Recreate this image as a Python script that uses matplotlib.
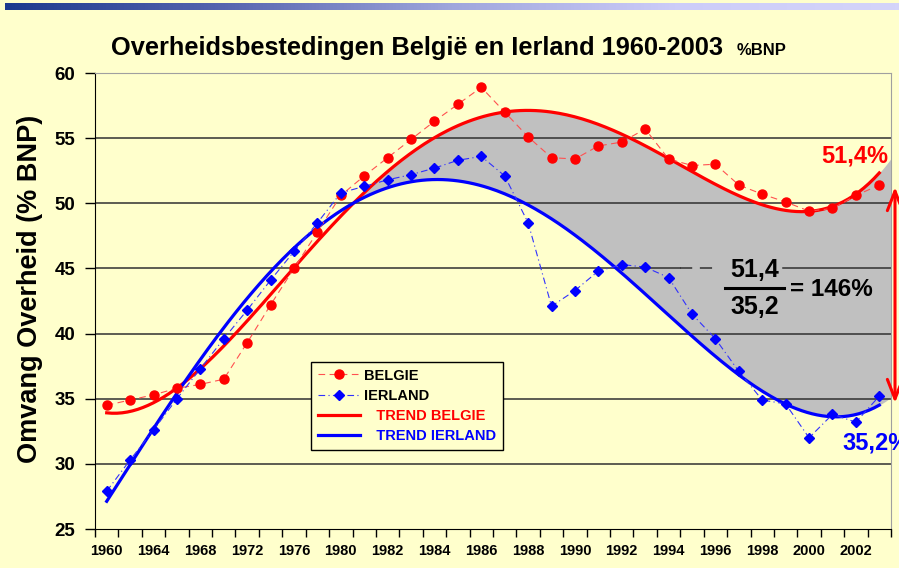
import numpy as np
import matplotlib.pyplot as plt
from matplotlib.colors import LinearSegmentedColormap
from matplotlib.patches import FancyArrowPatch
from matplotlib.lines import Line2D

###############################################################################
# Data
###############################################################################
YEARS = [1960, 1962, 1964, 1966, 1968, 1970, 1972, 1974, 1976, 1978, 1980] + \
    list(range(1981, 2004))
BELGIE = [
    34.5, 34.9, 35.3, 35.8, 36.1, 36.5, 39.3, 42.2, 45.0, 47.8, 50.6,
    52.1, 53.5, 54.9, 56.3, 57.6, 58.9, 57.0, 55.1, 53.5, 53.4, 54.4,
    54.7, 55.7, 53.4, 52.9, 53.0, 51.4, 50.7, 50.1, 49.4, 49.6, 50.6, 51.4
]
IERLAND = [
    27.9, 30.3, 32.6, 35.0, 37.3, 39.6, 41.8, 44.1, 46.3, 48.5, 50.8,
    51.3, 51.8, 52.2, 52.7, 53.3, 53.6, 52.1, 48.5, 42.1, 43.3, 44.8,
    45.3, 45.1, 44.3, 41.5, 39.6, 37.1, 34.9, 34.6, 32.0, 33.8, 33.2, 35.2
]
LABELS = ['BELGIE', 'IERLAND', 'TREND BELGIE', 'TREND IERLAND']
TREND_ORDER = 4

BG = '#FFFFCC'
RED, BLUE = '#FF0000', '#0000FF'
W, H = 899, 568


def fpx(x, y):
    # pixel position -> figure fraction
    return (x / W, 1 - y / H)


###############################################################################
# Figure
###############################################################################
plt.rcParams['font.family'] = ['Liberation Sans', 'DejaVu Sans']
fig = plt.figure(figsize=(W / 100, H / 100), dpi=100, facecolor=BG)

# Gradient bar on top ---------------------------------------------------------
bar = fig.add_axes([5 / W, 1 - 10 / H, 1 - 5 / W, 7 / H])
cmap = LinearSegmentedColormap.from_list(
    'band', ['#1C3A8E', '#5866B0', '#9FA6DC', '#CCCCF8', '#D4D4FA'])
bar.imshow(np.linspace(0, 1, 256)[None, :], aspect='auto', cmap=cmap)
bar.axis('off')

# Main axes -------------------------------------------------------------------
ax = fig.add_axes([95 / W, 1 - 529 / H, (891 - 95) / W, (529 - 73) / H])
ax.set_facecolor(BG)
cats = np.arange(len(YEARS))

# Trend lines (polynomial fit, like the spreadsheet trendline)
p_be = np.poly1d(np.polyfit(cats, BELGIE, TREND_ORDER))
p_ie = np.poly1d(np.polyfit(cats, IERLAND, TREND_ORDER))
roots = (p_be - p_ie).roots
roots = [r.real for r in roots if abs(r.imag) < 1e-9 and 5 < r.real < 20]
x_cross = roots[0] if roots else 10
xf = np.linspace(x_cross, len(YEARS) - 0.5, 300)
ax.fill_between(xf, p_ie(xf), p_be(xf), color='#C0C0C0', lw=0, zorder=1)

# Gridlines
for v in [30, 35, 40, 50, 55]:
    ax.axhline(v, color='#303030', lw=1.1, zorder=2)
ax.plot([-0.5, 24.5], [45, 45], color='#303030', lw=1.1, zorder=2)
ax.plot([24.5, 26.1], [45, 45], color='#303030', lw=1.1, zorder=2,
        ls=(0, (8, 5)))
ax.plot([28.9, 33.5], [45, 45], color='#303030', lw=1.1, zorder=2)

xx = np.linspace(0, len(YEARS) - 1, 300)
ax.plot(cats, BELGIE, color='#FF5050', lw=0.8, ls=(0, (6, 4)),
        marker='o', ms=6.5, mfc=RED, mec=RED, zorder=4, label=LABELS[0])
ax.plot(cats, IERLAND, color='#3030FF', lw=0.8, ls=(0, (6, 3, 1, 3)),
        marker='D', ms=5.6, mfc=BLUE, mec=BLUE, zorder=4, label=LABELS[1])
ax.plot(xx, p_be(xx), color=RED, lw=2.3, zorder=3, label=LABELS[2])
ax.plot(xx, p_ie(xx), color=BLUE, lw=2.3, zorder=3, label=LABELS[3])

# Axes styling
ax.set_xlim(-0.5, len(YEARS) - 0.5)
ax.set_ylim(25, 60)
ax.set_yticks(np.arange(25, 61, 5))
ax.set_xticks(cats[::2])
ax.set_xticklabels([str(y) for y in YEARS[::2]])
ax.set_xticks(np.arange(-0.5, len(YEARS), 1), minor=True)
ax.tick_params(axis='x', which='major', length=0, pad=11, labelsize=10.5)
ax.tick_params(axis='x', which='minor', length=6, width=1, color='black')
ax.tick_params(axis='y', length=7, width=1, pad=7, labelsize=13.5)
for t in ax.get_xticklabels() + ax.get_yticklabels():
    t.set_fontweight('bold')
ax.spines['left'].set_color('black')
ax.spines['bottom'].set_color('black')
ax.spines['top'].set_color('#A0A0A0')
ax.spines['right'].set_color('#A0A0A0')
ax.set_ylabel('Omvang Overheid (% BNP)', fontsize=19.5, fontweight='bold')
ax.yaxis.set_label_coords(-(95 - 43) / (891 - 95), (529 - 289) / (529 - 73))

# Legend ----------------------------------------------------------------------
handles = [
    Line2D([], [], color='#FF5050', lw=0.8, ls=(0, (6, 4)), marker='o',
           ms=6.5, mfc=RED, mec=RED),
    Line2D([], [], color='#3030FF', lw=0.8, ls=(0, (6, 3, 1, 3)), marker='D',
           ms=5.6, mfc=BLUE, mec=BLUE),
    Line2D([], [], color=RED, lw=2.3),
    Line2D([], [], color=BLUE, lw=2.3),
]
leg_labels = [LABELS[0], LABELS[1], '   ' + LABELS[2], '   ' + LABELS[3]]
leg = fig.legend(
    handles, leg_labels, loc='upper left', bbox_to_anchor=fpx(311, 362),
    frameon=True, fancybox=False, edgecolor='black', facecolor=BG,
    framealpha=1, prop={'weight': 'bold', 'size': 10.5},
    handlelength=2.9, handletextpad=0.3, labelspacing=0.42,
    borderpad=0.45, borderaxespad=0
)
leg.get_frame().set_linewidth(1)
for txt, c in zip(leg.get_texts(), ['black', 'black', RED, BLUE]):
    txt.set_color(c)

# Title -----------------------------------------------------------------------
fig.text(*fpx(111, 55), 'Overheidsbestedingen België en Ierland 1960-2003',
         fontsize=18.3, fontweight='bold', va='baseline', ha='left')
fig.text(*fpx(737, 55), '%BNP', fontsize=12, fontweight='bold',
         va='baseline', ha='left')

# Annotations -----------------------------------------------------------------
fig.text(*fpx(855, 156), '51,4%', color=RED, fontsize=17,
         fontweight='bold', ha='center', va='center')
fig.text(*fpx(842, 443), '35,2%', color=BLUE, fontsize=17,
         fontweight='bold', ha='left', va='center')
fig.text(*fpx(755, 270), '51,4', fontsize=18, fontweight='bold',
         ha='center', va='center')
fig.text(*fpx(755, 307), '35,2', fontsize=18, fontweight='bold',
         ha='center', va='center')
fig.add_artist(Line2D([725 / W, 784 / W], [1 - 288 / H, 1 - 288 / H],
                      color='black', lw=2.2))
fig.text(*fpx(790, 289), '= 146%', fontsize=17.5, fontweight='bold',
         ha='left', va='center')
fig.add_artist(FancyArrowPatch(
    fpx(895, 403), fpx(895, 187), transform=fig.transFigure,
    arrowstyle='<->,head_length=1.4,head_width=0.55', mutation_scale=10,
    color=RED, lw=2.2, shrinkA=0, shrinkB=0
))

fig.savefig('out.png', dpi=100, facecolor=BG)
